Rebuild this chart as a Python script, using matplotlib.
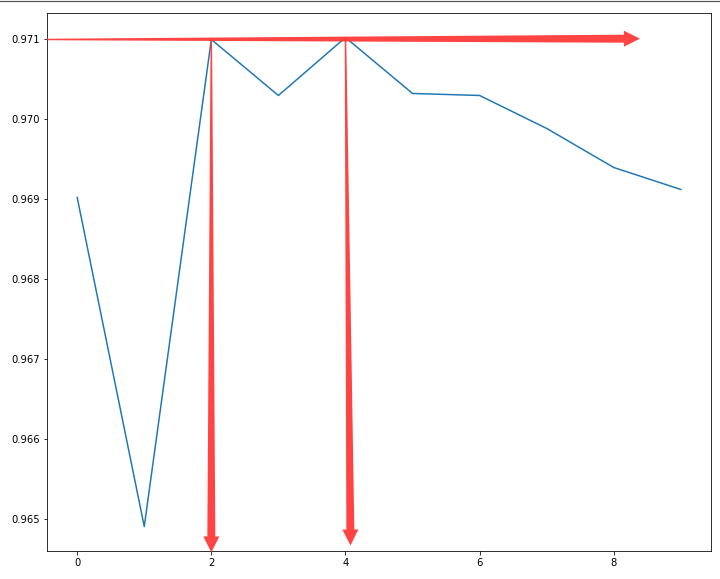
import matplotlib
matplotlib.use("Agg")
import numpy as np
import matplotlib.pyplot as plt
from matplotlib.lines import Line2D
from matplotlib.patches import Polygon
from matplotlib.transforms import IdentityTransform

epochs = [0, 1, 2, 3, 4, 5, 6, 7, 8, 9]
scores = [0.969025, 0.964912, 0.971000, 0.970300, 0.971025,
          0.970325, 0.970300, 0.969888, 0.969400, 0.969125]

# hand-drawn style marker arrows: (start, tip) in data coords
best = 0.971
arrows = [((-0.45, best), (8.39, 0.97101)),
          ((2.0, best), (2.0, 0.964588)),
          ((4.0, 0.971025), (4.075, 0.964675))]

DPI = 72
fig = plt.figure(figsize=(720 / DPI, 579 / DPI), dpi=DPI)
ax = fig.add_axes([0.0653, 0.0484, 0.9222, 0.9291])
ax.plot(epochs, scores)
ax.get_xlim()
ax.get_ylim()


def tapered_arrow(p0, p1, w0=1.5, w1=8, hw=16, hl=16, color="#ff3a3a"):
    a, b = ax.transData.transform([p0, p1])
    d = (b - a) / np.hypot(*(b - a))
    n = np.array([-d[1], d[0]])
    base = b - d * hl
    pts = [a + n * w0 / 2, base + n * w1 / 2, base + n * hw / 2, b,
           base - n * hw / 2, base - n * w1 / 2, a - n * w0 / 2]
    poly = Polygon(pts, closed=True, transform=IdentityTransform(),
                   facecolor=color, edgecolor="none", alpha=0.95)
    fig.add_artist(poly)


for p0, p1 in arrows:
    tapered_arrow(p0, p1)

fig.add_artist(Line2D([0, 1], [1 - 1 / 579] * 2, transform=fig.transFigure,
                      color="#555555", lw=1.2))

fig.savefig("out.png", dpi=DPI)
